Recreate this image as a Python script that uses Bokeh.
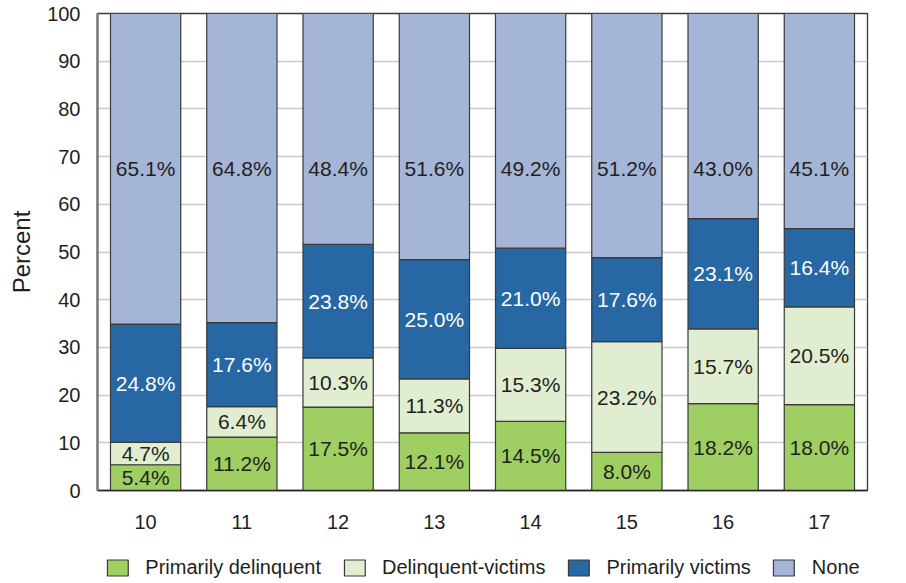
import numpy as np
from bokeh.plotting import figure
from bokeh.layouts import column
from bokeh.models import ColumnDataSource, Range1d, FactorRange, Legend, LegendItem, SingleIntervalTicker
from bokeh.core.properties import value
from bokeh.embed import file_html
from bokeh.resources import INLINE

ages = ["10", "11", "12", "13", "14", "15", "16", "17"]
primarily_delinquent = [5.4, 11.2, 17.5, 12.1, 14.5, 8.0, 18.2, 18.0]
delinquent_victims = [4.7, 6.4, 10.3, 11.3, 15.3, 23.2, 15.7, 20.5]
primarily_victims = [24.8, 17.6, 23.8, 25.0, 21.0, 17.6, 23.1, 16.4]
none = [65.1, 64.8, 48.4, 51.6, 49.2, 51.2, 43.0, 45.1]

series_names = ["Primarily delinquent", "Delinquent-victims", "Primarily victims", "None"]
keys = ["pd", "dv", "pv", "no"]
colors = ["#9fce63", "#e1edd1", "#2767a4", "#a5b5d8"]
text_colors = ["#231f20", "#231f20", "#ffffff", "#231f20"]
none_label_y = 67.6

FONT = "Liberation Sans"
EDGE = "#3a3a3a"

data = dict(age=ages, pd=primarily_delinquent, dv=delinquent_victims,
            pv=primarily_victims, no=none)
src = ColumnDataSource(data)

p = figure(x_range=FactorRange(*ages, range_padding=0.0), y_range=Range1d(0, 100),
           width=896, height=535, output_backend="svg", toolbar_location=None,
           min_border_left=97, min_border_right=29, min_border_top=13, min_border_bottom=45)

renderers = p.vbar_stack(keys, x="age", width=0.73, source=src, color=colors,
                         line_color=EDGE, line_width=1.2)

# labels
vals = np.array([primarily_delinquent, delinquent_victims, primarily_victims, none])
tops = np.cumsum(vals, axis=0)
bottoms = tops - vals
for i in range(4):
    ys = (tops[i] + bottoms[i]) / 2.0
    if i == 3:
        ys = np.full(len(ages), none_label_y)
    labels = ["%.1f%%" % v for v in vals[i]]
    s = ColumnDataSource(dict(x=ages, y=ys, t=labels))
    p.text(x="x", y="y", text="t", source=s, text_align="center", text_baseline="middle",
           text_font=value(FONT), text_font_size="21px", text_color=text_colors[i])

p.xgrid.grid_line_color = None
p.ygrid.grid_line_color = "#c9c9c9"
p.ygrid.grid_line_width = 1.3
p.yaxis.ticker = SingleIntervalTicker(interval=10)
p.outline_line_color = EDGE
p.outline_line_width = 1.3

for ax in (p.xaxis[0], p.yaxis[0]):
    ax.major_tick_line_color = None
    ax.minor_tick_line_color = None
    ax.major_label_text_font = FONT
    ax.major_label_text_font_size = "20px"
    ax.major_label_text_color = "#231f20"

p.yaxis.axis_line_color = "#7a7a7a"
p.yaxis.axis_line_width = 2.5
p.xaxis.axis_line_color = "#2a2a2a"
p.xaxis.axis_line_width = 1.5
p.yaxis.major_label_standoff = 11
p.xaxis.major_label_standoff = 18
p.yaxis.axis_label = "Percent"
p.yaxis.axis_label_text_font = FONT
p.yaxis.axis_label_text_font_size = "24px"
p.yaxis.axis_label_text_font_style = "normal"
p.yaxis.axis_label_text_color = "#231f20"
p.yaxis.axis_label_standoff = 9

# legend strip: same series drawn out of view, only the legend is visible
lg = figure(width=896, height=44, x_range=FactorRange(*ages), y_range=Range1d(1000, 1001),
            output_backend="svg", toolbar_location=None,
            min_border_left=97, min_border_right=29, min_border_top=20, min_border_bottom=0,
            x_axis_location=None, y_axis_location=None)
lg.grid.grid_line_color = None
lg.outline_line_color = None
lg_renderers = lg.vbar_stack(keys, x="age", width=0.73, source=src, color=colors,
                             line_color=EDGE, line_width=1.2)
leg = Legend(items=[LegendItem(label=n, renderers=[r]) for n, r in zip(series_names, lg_renderers)],
             orientation="horizontal", location="center",
             label_text_font=FONT, label_text_font_size="20px", label_text_color="#231f20",
             glyph_width=26, glyph_height=20, label_standoff=15, spacing=20,
             border_line_alpha=0, background_fill_alpha=0, padding=0, margin=0)
lg.add_layout(leg, "center")

open("out.html", "w").write(file_html(column(p, lg, spacing=0), INLINE))
